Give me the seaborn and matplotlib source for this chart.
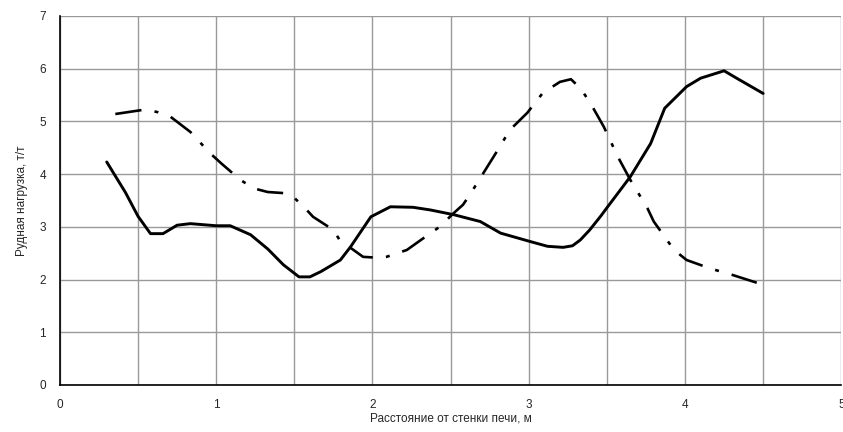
import numpy as np
import pandas as pd
import matplotlib
matplotlib.use("Agg")
import matplotlib.pyplot as plt
from matplotlib.ticker import MultipleLocator
import seaborn as sns

# ---------------------------- DATA ---------------------------------

# solid curve
solid_x = [0.30, 0.42, 0.50, 0.58, 0.66, 0.75, 0.835, 1.0, 1.09, 1.22, 1.33,
           1.43, 1.53, 1.60, 1.67, 1.795, 1.86, 1.99, 2.115, 2.26, 2.37, 2.52,
           2.69, 2.82, 3.01, 3.12, 3.22, 3.28, 3.33, 3.39, 3.46, 3.50, 3.65,
           3.78, 3.87, 4.01, 4.10, 4.25, 4.33, 4.50]
solid_y = [4.23, 3.65, 3.20, 2.87, 2.87, 3.03, 3.06, 3.02, 3.02, 2.85, 2.58,
           2.28, 2.05, 2.05, 2.15, 2.37, 2.62, 3.19, 3.38, 3.37, 3.32, 3.23,
           3.10, 2.88, 2.72, 2.63, 2.61, 2.64, 2.75, 2.94, 3.20, 3.36, 3.95,
           4.58, 5.25, 5.66, 5.82, 5.96, 5.82, 5.53]

# dash-dot curve
dash_x = [0.355, 0.535, 0.62, 0.707, 0.835, 0.96, 1.03, 1.155, 1.24, 1.33,
          1.43, 1.50, 1.57, 1.62, 1.75, 1.79, 1.94, 2.05, 2.09, 2.22, 2.31,
          2.43, 2.52, 2.58, 2.63, 2.71, 2.79, 2.88, 2.99, 3.09, 3.20, 3.27,
          3.33, 3.39, 3.48, 3.57, 3.65, 3.76, 3.80, 3.93, 4.01, 4.16, 4.30,
          4.50]
dash_y = [5.14, 5.22, 5.18, 5.09, 4.80, 4.40, 4.21, 3.89, 3.73, 3.66,
          3.64, 3.55, 3.35, 3.19, 2.94, 2.75, 2.43, 2.41, 2.43, 2.56, 2.75,
          3.00, 3.26, 3.42, 3.64, 4.02, 4.40, 4.84, 5.16, 5.54, 5.75, 5.80,
          5.63, 5.37, 4.90, 4.33, 3.89, 3.35, 3.10, 2.56, 2.37, 2.21, 2.09,
          1.90]

x_label = "Расстояние от стенки печи, м"
y_label = "Рудная нагрузка, т/т"

# ---------------------------- PLOT ---------------------------------

sns.set_style("white")
plt.rcParams["font.family"] = ["Liberation Sans", "DejaVu Sans"]

df_solid = pd.DataFrame({"x": solid_x, "y": solid_y})
df_dash = pd.DataFrame({"x": dash_x, "y": dash_y})

fig = plt.figure(figsize=(8.43, 4.32), dpi=100)
ax = fig.add_axes([0.071, 0.109, 0.927, 0.854])

sns.lineplot(data=df_dash, x="x", y="y", ax=ax, sort=False, color="black",
             linewidth=1.9, linestyle=(0, (10, 5, 1.5, 5)))
sns.lineplot(data=df_solid, x="x", y="y", ax=ax, sort=False, color="black",
             linewidth=2.1)

ax.set_xlim(0, 5)
ax.set_ylim(0, 7)
ax.xaxis.set_major_locator(MultipleLocator(1))
ax.xaxis.set_minor_locator(MultipleLocator(0.5))
ax.yaxis.set_major_locator(MultipleLocator(1))
ax.grid(which="both", color="#999999", linewidth=1.0)
ax.set_axisbelow(True)

for side in ["top", "right"]:
    ax.spines[side].set_visible(False)
for side in ["left", "bottom"]:
    ax.spines[side].set_color("black")
    ax.spines[side].set_linewidth(1.2)

ax.tick_params(axis="both", which="major", direction="out", length=4,
               width=1, color="black", labelsize=8.5, pad=6)
ax.tick_params(axis="x", which="minor", length=0)

ax.set_xlabel(x_label, fontsize=8.5, labelpad=1)
ax.set_ylabel(y_label, fontsize=8.5, labelpad=8)

fig.savefig("out.png", dpi=100)
